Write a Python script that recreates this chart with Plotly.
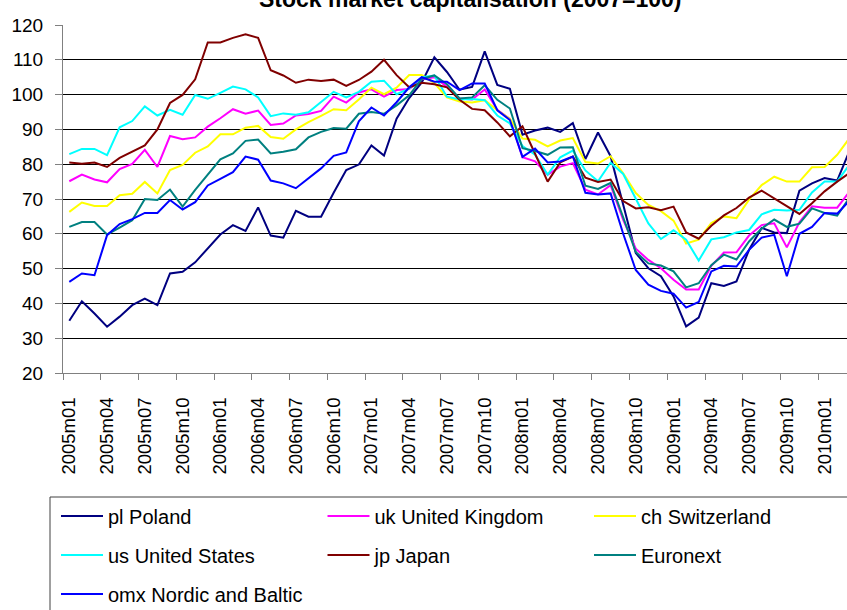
import plotly.graph_objects as go

months = ["2005m01","2005m02","2005m03","2005m04","2005m05","2005m06","2005m07","2005m08","2005m09","2005m10","2005m11","2005m12",
          "2006m01","2006m02","2006m03","2006m04","2006m05","2006m06","2006m07","2006m08","2006m09","2006m10","2006m11","2006m12",
          "2007m01","2007m02","2007m03","2007m04","2007m05","2007m06","2007m07","2007m08","2007m09","2007m10","2007m11","2007m12",
          "2008m01","2008m02","2008m03","2008m04","2008m05","2008m06","2008m07","2008m08","2008m09","2008m10","2008m11","2008m12",
          "2009m01","2009m02","2009m03","2009m04","2009m05","2009m06","2009m07","2009m08","2009m09","2009m10","2009m11","2009m12",
          "2010m01","2010m02","2010m03"]

poland = [35, 40.6, 37.1, 33.3, 36.2, 39.5, 41.4, 39.5, 48.6, 49.1,
          51.8, 55.8, 59.8, 62.5, 60.8, 67.6, 59.5, 58.9, 66.6, 64.9,
          64.9, 71.8, 78.3, 79.9, 85.4, 82.5, 93.1, 99, 103.5, 110.7,
          106.5, 101.4, 102.2, 112.4, 102.8, 101.7, 88.5, 89.7, 90.5, 89.3,
          91.8, 81.5, 89.1, 82.3, 68, 54.5, 50.1, 47.8, 42, 33.4,
          35.9, 45.8, 45, 46.3, 55.4, 61.7, 60.4, 60.2, 72.4, 74.5,
          76, 75.3, 84]
uk = [75.1, 77, 75.6, 74.8, 78.6, 80.1, 84.1, 79.2, 88.1, 87.2,
      87.7, 90.8, 93.2, 95.8, 94.5, 95.4, 91.3, 91.7, 94, 94.4,
      95.3, 99.4, 97.7, 100.6, 101.5, 99.4, 101.3, 101.6, 104.4, 105,
      102.3, 98.9, 98.6, 101.5, 95.6, 93, 82, 80.8, 77, 79.3,
      80.3, 72.7, 71.3, 74, 64, 55.7, 52.5, 50.1, 46.8, 44,
      44, 50.8, 54.6, 54.7, 59.5, 62.5, 63, 56.1, 63.3, 67.9,
      67.5, 67.5, 72.2]
switzerland = [66.3, 69, 68, 68, 71.1, 71.5, 74.9, 71.6, 78.3, 79.8,
               83.3, 85.1, 88.6, 88.6, 90.5, 91, 87.8, 87.3, 90, 92.1,
               93.9, 95.8, 95.5, 98.6, 102, 100.1, 102, 105.6, 105.6, 103.3,
               99.2, 98, 97.7, 98.4, 95.5, 93, 87.4, 87, 85.1, 86.8,
               87.5, 80.6, 80.2, 82.3, 77.4, 71.7, 68.3, 66.5, 63.8, 57.2,
               58.3, 63.1, 65, 64.5, 69.8, 74, 76.4, 75, 75, 79.1,
               79.2, 82.7, 87.6]
us = [82.9, 84.4, 84.4, 82.6, 90.6, 92.4, 96.6, 94, 95.6, 94.2,
      99.9, 98.8, 100.5, 102.3, 101.5, 99.2, 93.8, 94.6, 94.2, 94.9,
      97.9, 100.8, 99.2, 100.8, 103.7, 104, 100.1, 101.7, 105, 105.5,
      99.4, 98.6, 98.7, 98.4, 94, 91.7, 85.2, 82.7, 77, 82,
      83.9, 78.2, 75.1, 80.4, 77.2, 70.2, 63, 58.5, 61, 58.3,
      52.3, 58.4, 59, 60.4, 61.1, 65.6, 66.9, 66.7, 66.9, 71.9,
      75, 75, 80]
japan = [80.5, 80.1, 80.5, 79.2, 81.8, 83.6, 85.4, 90, 97.6, 99.9,
         104.4, 115, 115, 116.3, 117.3, 116.3, 107, 105.5, 103.4, 104.3,
         103.9, 104.3, 102.5, 104.2, 106.6, 110, 105.6, 102.1, 103.4, 103,
         102.1, 98.5, 95.9, 95.5, 92, 88, 90.9, 83, 75, 80.5,
         82.2, 76.1, 74.9, 75.6, 69.4, 67.3, 67.6, 66.8, 67.8, 60.4,
         58.6, 62.3, 65.3, 67.4, 70.4, 72.4, 70.1, 67.9, 65.7, 68.8,
         72.2, 75, 77.5]
euronext = [62, 63.4, 63.4, 59.8, 61.8, 63.9, 70, 69.7, 72.7, 67.8,
            72.6, 76.9, 81.4, 83.1, 86.7, 87.1, 83.1, 83.6, 84.3, 87.7,
            89.3, 90.4, 90.2, 94.5, 95, 94.5, 96.9, 99.8, 104.5, 105.5,
            103, 98.9, 99.2, 102.7, 98.5, 96, 84.6, 83.8, 82.7, 84.8,
            84.9, 73.8, 72.9, 74.6, 65, 54.8, 51.5, 50.9, 49.2, 44.6,
            45.8, 51, 54, 52.6, 57.8, 61.5, 64.1, 62, 62.9, 67.3,
            66, 65.2, 70.5]
omx = [46.2, 48.6, 48.1, 59.6, 62.8, 64.2, 66, 66, 69.7, 67,
       69.1, 73.9, 75.8, 77.7, 82.2, 81.3, 75.3, 74.5, 73.1, 75.9,
       78.8, 82.4, 83.4, 92.3, 96.3, 94, 97.8, 102.1, 105, 103.7,
       103.7, 101.3, 103.2, 103.2, 95.5, 92.7, 82.1, 84.5, 80.5, 80.8,
       82.2, 71.8, 71.3, 71.6, 60, 49.6, 45.4, 43.6, 42.8, 38.8,
       40.4, 49.2, 50.8, 50.6, 55.4, 58.9, 59.7, 47.8, 60, 62,
       66, 65.8, 69.6]

series = [
    ("pl Poland", poland, "#000080", "legend"),
    ("uk United Kingdom", uk, "#FF00FF", "legend"),
    ("ch Switzerland", switzerland, "#FFFF00", "legend"),
    ("us United States", us, "#00FFFF", "legend2"),
    ("jp Japan", japan, "#800000", "legend2"),
    ("Euronext", euronext, "#008080", "legend2"),
    ("omx Nordic and Baltic", omx, "#0000FF", "legend3"),
]

FONT = "Arial, Liberation Sans, sans-serif"

fig = go.Figure()
for name, vals, color, lg in series:
    fig.add_trace(go.Scatter(x=months, y=vals, mode="lines", name=name,
                             line=dict(color=color, width=2), legend=lg))

W, H = 847, 610
L, R, T, B = 63, 0, 25, 237
pw, ph = W - L - R, H - T - B

def px_x(x):
    return (x - L) / pw

def px_y(y):
    return (H - B - y) / ph

leg_common = dict(orientation="h", xanchor="left", yanchor="middle",
                  font=dict(family=FONT, size=20, color="black"),
                  bgcolor="rgba(0,0,0,0)", borderwidth=0,
                  entrywidth=209.5, entrywidthmode="pixels", itemwidth=42)

fig.update_layout(
    width=W, height=H,
    margin=dict(l=L, r=R, t=T, b=B, autoexpand=False),
    paper_bgcolor="white", plot_bgcolor="white",
    showlegend=True,
    legend=dict(leg_common, x=px_x(56), y=px_y(516)),
    legend2=dict(leg_common, x=px_x(56), y=px_y(555)),
    legend3=dict(leg_common, x=px_x(56), y=px_y(594)),
    xaxis=dict(type="category", range=[-0.5, 61.78], tickson="boundaries",
               dtick=3, tickangle=-90, ticks="outside", ticklen=6,
               tickcolor="#808080", showline=True, linecolor="#808080",
               linewidth=1, showgrid=False, ticklabelstandoff=16,
               tickfont=dict(family=FONT, size=18.5, color="black")),
    yaxis=dict(range=[20, 120], dtick=10, tick0=20, ticks="outside", ticklen=7,
               tickcolor="#808080", showline=True, linecolor="#808080",
               linewidth=1, showgrid=True, gridcolor="#000000", gridwidth=1,
               zeroline=False, ticklabelstandoff=8,
               tickfont=dict(family=FONT, size=19, color="black")),
    shapes=[dict(type="rect", xref="paper", yref="paper",
                 x0=px_x(50), x1=1.05, y0=px_y(497), y1=px_y(660),
                 line=dict(color="#404040", width=1), fillcolor="rgba(0,0,0,0)")],
    annotations=[dict(text="<b>Stock market capitalisation (2007=100)</b>",
                      xref="paper", yref="paper", x=px_x(470), y=px_y(-1),
                      xanchor="center", yanchor="middle", showarrow=False,
                      font=dict(family=FONT, size=23, color="black"))],
)

fig.write_html("out.html", config={"displayModeBar": False},
               post_script="document.body.style.margin='0';")
